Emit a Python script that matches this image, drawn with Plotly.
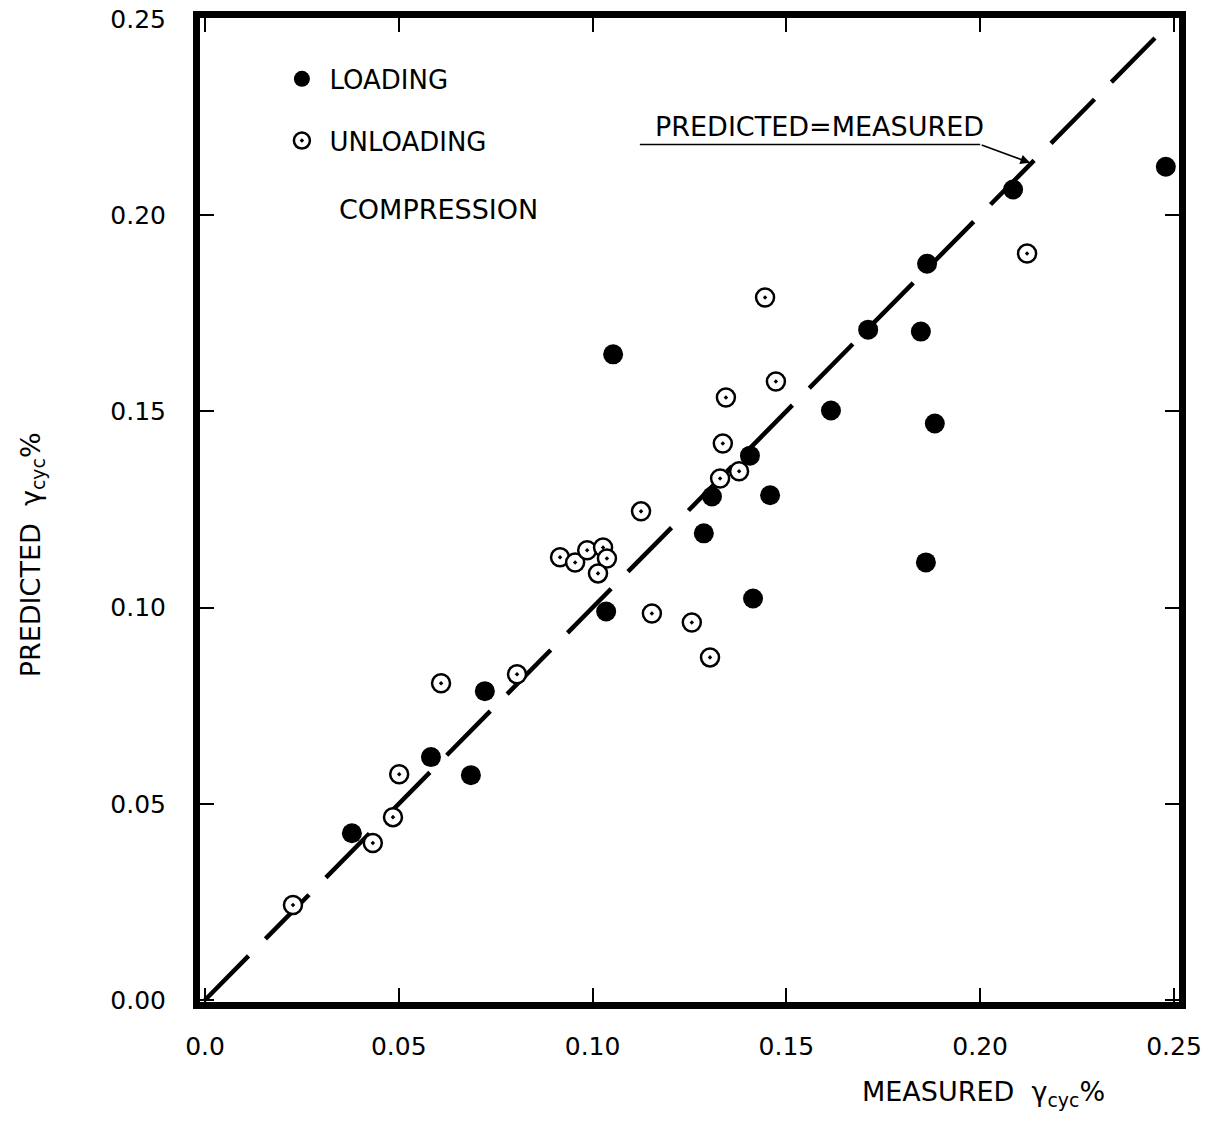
import plotly.graph_objects as go

# ---- data ----
loading_measured = [0.0379, 0.0583, 0.0722, 0.0686, 0.1035, 0.1053, 0.1287, 0.1308, 0.1406, 0.1414,
                    0.1458, 0.1615, 0.1711, 0.1847, 0.1863, 0.1883, 0.1860, 0.2085, 0.2479]
loading_predicted = [0.0425, 0.0619, 0.0787, 0.0573, 0.0990, 0.1645, 0.1189, 0.1283, 0.1387, 0.1023,
                     0.1286, 0.1502, 0.1708, 0.1703, 0.1876, 0.1469, 0.1115, 0.2065, 0.2123]

unloading_measured = [0.0227, 0.0433, 0.0485, 0.0501, 0.0609, 0.0805, 0.0916, 0.0955, 0.0986, 0.1027,
                      0.1037, 0.1014, 0.1125, 0.1153, 0.1256, 0.1303, 0.1329, 0.1336, 0.1344, 0.1378,
                      0.1445, 0.1473, 0.2121]
unloading_predicted = [0.0242, 0.0400, 0.0466, 0.0575, 0.0807, 0.0830, 0.1128, 0.1115, 0.1146, 0.1153,
                       0.1125, 0.1087, 0.1245, 0.0985, 0.0962, 0.0873, 0.1329, 0.1418, 0.1535, 0.1347,
                       0.1790, 0.1576, 0.1902]

equality_line = [0.0, 0.247]

x_tick_vals = [0.0, 0.05, 0.10, 0.15, 0.20, 0.25]
x_tick_text = ["0.0", "0.05", "0.10", "0.15", "0.20", "0.25"]
y_tick_vals = [0.0, 0.05, 0.10, 0.15, 0.20, 0.25]
y_tick_text = ["0.00", "0.05", "0.10", "0.15", "0.20", "0.25"]

FONT = "DejaVu Sans"

fig = go.Figure()

fig.add_trace(go.Scatter(
    x=equality_line, y=equality_line, mode="lines",
    line=dict(color="black", width=4.5, dash="62px,24px"),
    showlegend=False, hoverinfo="skip"))

fig.add_trace(go.Scatter(
    x=unloading_measured, y=unloading_predicted, mode="markers",
    name="UNLOADING", legendgroup="u", legendrank=2,
    marker=dict(symbol="circle-dot", size=18, color="white",
                line=dict(color="black", width=2.5))))

fig.add_trace(go.Scatter(
    x=loading_measured, y=loading_predicted, mode="markers",
    name="LOADING", legendgroup="l", legendrank=1,
    marker=dict(symbol="circle", size=20, color="black",
                line=dict(color="black", width=0))))

axis_common = dict(
    showgrid=False, zeroline=False, automargin=False,
    showline=True, linecolor="black", linewidth=7, mirror="allticks",
    ticks="inside", ticklen=14, tickwidth=1.5, tickcolor="black",
    ticklabeloverflow="allow",
    tickfont=dict(family=FONT, size=25, color="black"),
)

fig.update_xaxes(range=[-0.00129, 0.2513], tickvals=x_tick_vals, ticktext=x_tick_text,
                 ticklabelstandoff=16, **axis_common)
fig.update_yaxes(range=[-0.0005, 0.2502], tickvals=y_tick_vals, ticktext=y_tick_text,
                 ticklabelstandoff=22, **axis_common)

fig.add_shape(type="line", xref="x", yref="y", x0=0.1122, y0=0.2180, x1=0.2000, y1=0.2180,
              line=dict(color="black", width=1.5))

fig.add_annotation(x=0.2129, y=0.2133, xref="x", yref="y", ax=0.2000, ay=0.2180,
                   axref="x", ayref="y", text="", showarrow=True,
                   arrowhead=2, arrowsize=1.3, arrowwidth=1.5, arrowcolor="black")

fig.add_annotation(x=0.1585, y=0.2225, xref="x", yref="y", text="PREDICTED=MEASURED",
                   showarrow=False, xanchor="center", yanchor="middle",
                   font=dict(family=FONT, size=27, color="black"))

fig.add_annotation(x=0.140, y=0.805, xref="paper", yref="paper", text="COMPRESSION",
                   showarrow=False, xanchor="left", yanchor="middle",
                   font=dict(family=FONT, size=27, color="black"))

fig.add_annotation(x=0.674, y=-0.0925, xref="paper", yref="paper",
                   text="MEASURED  γ<sub>cyc</sub>%",
                   showarrow=False, xanchor="left", yanchor="middle",
                   font=dict(family=FONT, size=27, color="black"))

fig.add_annotation(x=-0.1716, y=0.454, xref="paper", yref="paper",
                   text="PREDICTED  γ<sub>cyc</sub>%", textangle=-90,
                   showarrow=False, xanchor="center", yanchor="middle",
                   font=dict(family=FONT, size=27, color="black"))

fig.update_layout(
    width=1207, height=1121,
    margin=dict(l=200, r=28, t=18, b=119),
    paper_bgcolor="white", plot_bgcolor="white",
    showlegend=True,
    legend=dict(x=0.076, y=0.962, xanchor="left", yanchor="top",
                bgcolor="rgba(0,0,0,0)", borderwidth=0,
                font=dict(family=FONT, size=26, color="black"),
                tracegroupgap=25, itemwidth=45),
)

# remove the default 8px page margin so the figure fills the window exactly
fig.write_html("out.html",
               config={"displayModeBar": False},
               post_script="document.body.style.margin='0px'; document.body.style.overflow='hidden';")
